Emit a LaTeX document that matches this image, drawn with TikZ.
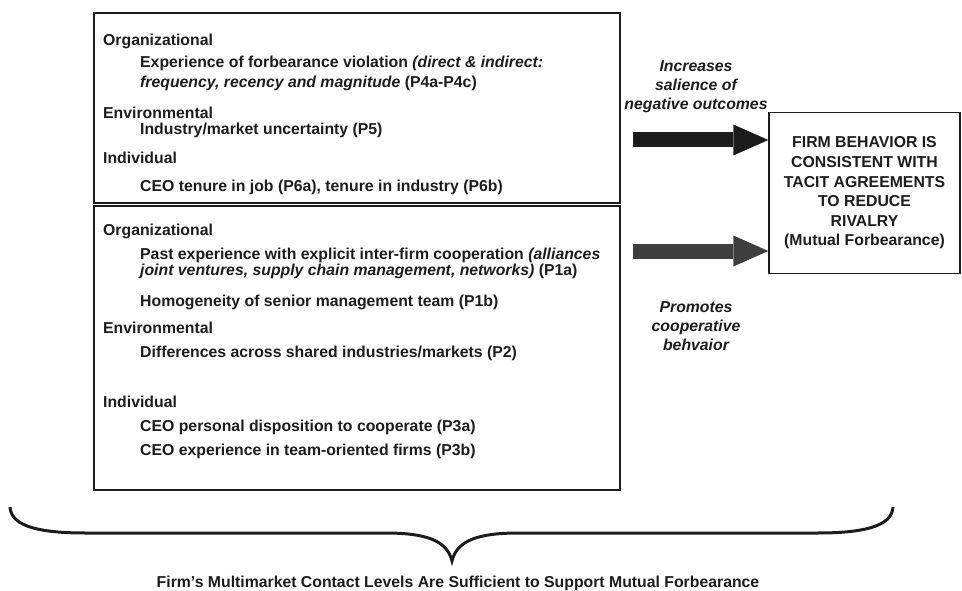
\documentclass[tikz,border=0pt]{standalone}
\usepackage{fontspec}
\setmainfont{Liberation Sans}
\usetikzlibrary{arrows.meta}
\definecolor{InkBlack}{HTML}{1C1C1C}
\definecolor{CoopGray}{HTML}{3E3E3E}

\begin{document}
\begin{tikzpicture}[x=1pt, y=-1pt,
    txt/.style={inner sep=0pt, text=InkBlack,
      font=\fontsize{15.8}{19.6}\selectfont\bfseries},
    head/.style={txt, anchor=base west},
    item/.style={txt, anchor=base west},
    note/.style={txt, align=center, font=\fontsize{15.8}{19}\selectfont\bfseries\itshape},
    box/.style={draw=InkBlack, line width=1.3pt},
    fat/.style={line width=15pt, -{Triangle[length=35pt, width=31pt, line width=0pt]}},
    brace/.style={draw=InkBlack, line width=3pt}]
  \useasboundingbox (0,0) rectangle (962,591);

  % factors that raise the cost of rivalry
  \draw[box] (94,13) rectangle (620,203);
  \node[head] (org1) at (103,46) {Organizational};
  \node[item] (forb1) at (140,68) {Experience of forbearance violation \textit{(direct \& indirect:}};
  \node[item] (forb2) at (140,88) {\textit{frequency, recency and magnitude} (P4a-P4c)};
  \node[head] (env1) at (103,119) {Environmental};
  \node[item] (uncert) at (140,135) {Industry/market uncertainty (P5)};
  \node[head] (ind1) at (103,164) {Individual};
  \node[item] (tenure) at (140,192) {CEO tenure in job (P6a), tenure in industry (P6b)};

  % factors that ease cooperation
  \draw[box] (94,206) rectangle (620,490);
  \node[head] (org2) at (103,236) {Organizational};
  \node[item] (past1) at (140,259) {Past experience with explicit inter-firm cooperation \textit{(alliances}};
  \node[item] (past2) at (140,276) {\textit{joint ventures, supply chain management, networks)} (P1a)};
  \node[item] (homog) at (140,306) {Homogeneity of senior management team (P1b)};
  \node[head] (env2) at (103,333) {Environmental};
  \node[item] (diff) at (140,357) {Differences across shared industries/markets (P2)};
  \node[head] (ind2) at (103,407) {Individual};
  \node[item] (dispo) at (140,431) {CEO personal disposition to cooperate (P3a)};
  \node[item] (teamexp) at (140,455) {CEO experience in team-oriented firms (P3b)};

  % outcome
  \node[box, txt, align=center, minimum width=191pt, minimum height=161pt]
    (firm) at (864.5,193) {FIRM BEHAVIOR IS\\CONSISTENT WITH\\TACIT AGREEMENTS\\TO REDUCE\\RIVALRY\\(Mutual Forbearance)};

  % the two paths
  \coordinate (harmtail) at (633,140);
  \coordinate (cooptail) at (633,251);
  \draw[fat, InkBlack] (harmtail) -- (harmtail -| firm.west);
  \draw[fat, CoopGray] (cooptail) -- (cooptail -| firm.west);
  \node[note] (harmnote) at (696,87) {Increases\\salience of\\negative outcomes};
  \node[note] (coopnote) at (696,326.5) {Promotes\\cooperative\\behvaior};

  % brace over both boxes
  \coordinate (braceL) at (10,507);
  \coordinate (braceR) at (893,507);
  \coordinate (braceTip) at (452,561);
  \draw[brace] (braceL) .. controls (11,523) and (30,533) .. (85,533) -- (385,533)
    .. controls (425,533) and (447,540) .. (braceTip)
    .. controls (457,540) and (479,533) .. (519,533) -- (818,533)
    .. controls (873,533) and (892,523) .. (braceR);
  \node[txt, anchor=base] (contact) at (458,587)
    {Firm’s Multimarket Contact Levels Are Sufficient to Support Mutual Forbearance};
\end{tikzpicture}
\end{document}
